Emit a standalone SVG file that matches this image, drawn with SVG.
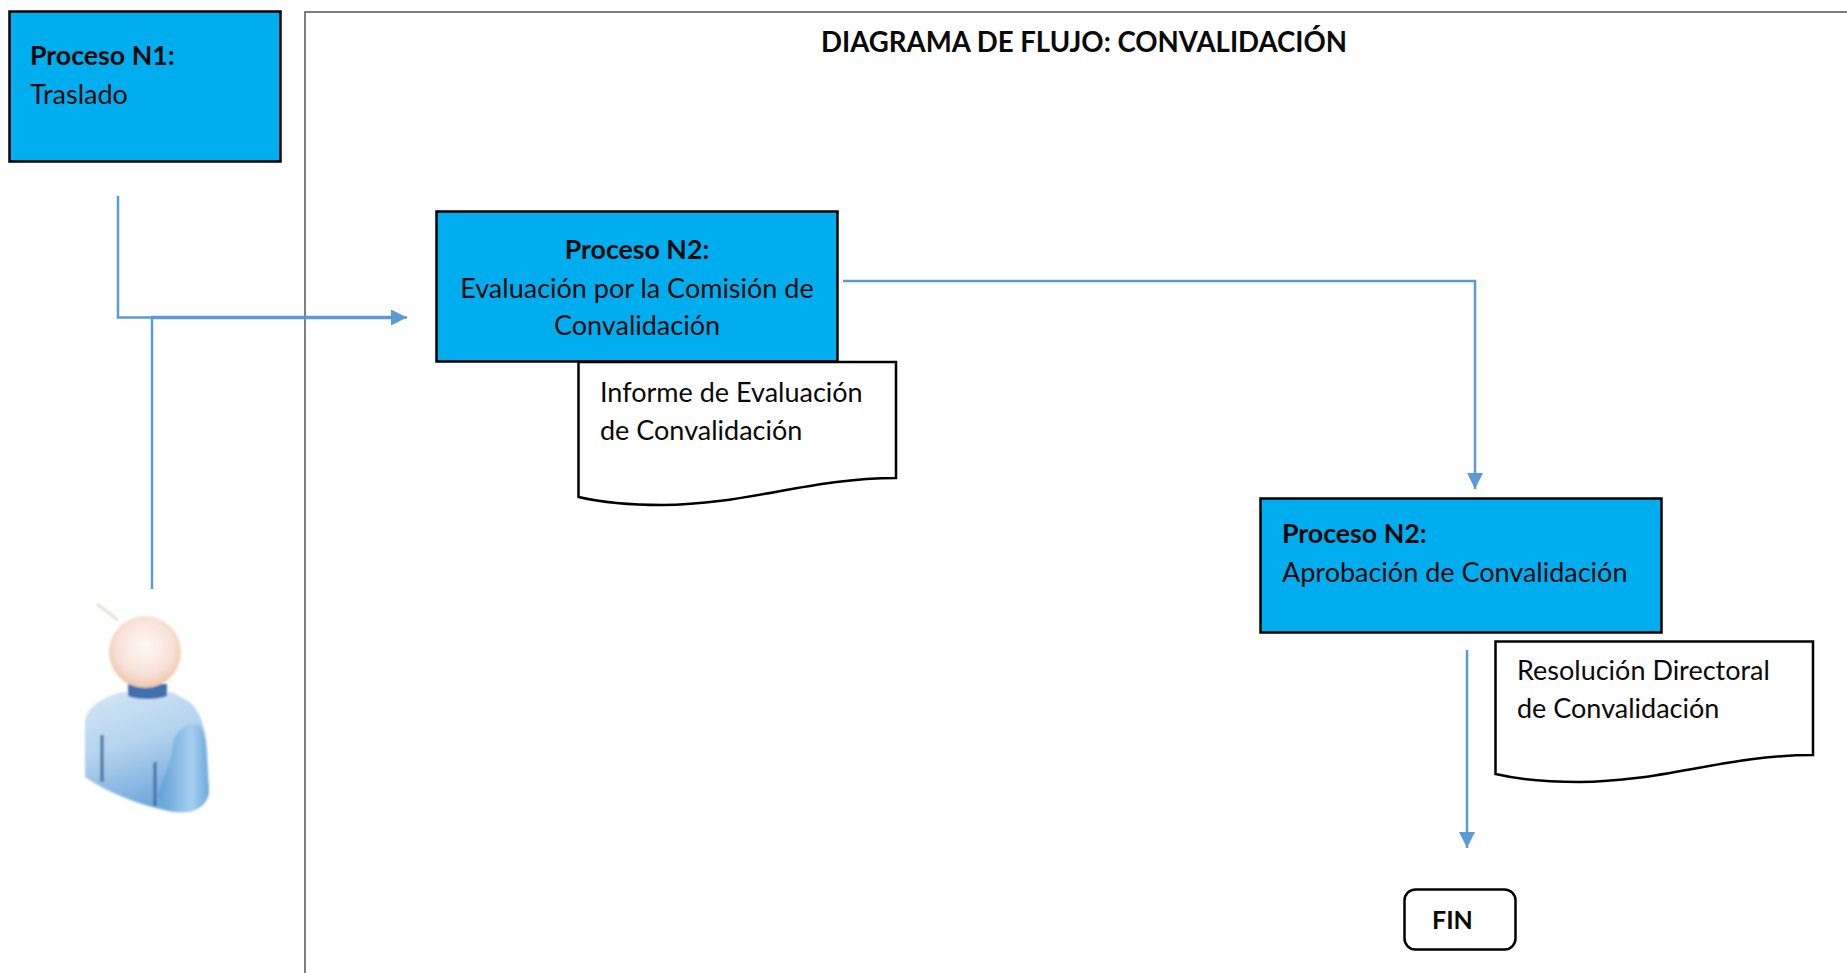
<svg xmlns="http://www.w3.org/2000/svg" width="1847" height="973" viewBox="0 0 1847 973">
<style>
text{font-family:Lato,"Open Sans","Liberation Sans",sans-serif;font-size:27px;fill:#0a0a0a}
.b{font-weight:700;font-size:26.7px}
.t{font-size:27.6px}
.box{fill:#00aeef;stroke:#000;stroke-width:2.5}
.doc{fill:#fff;stroke:#000;stroke-width:2.5}
.c{fill:none;stroke:#5b9bd5;stroke-width:2.5}
.h{stroke-width:3.5}
</style>
<defs>
<marker id="a" markerUnits="userSpaceOnUse" markerWidth="18" markerHeight="18" refX="16" refY="8" orient="auto"><path d="M0 0L16 8L0 16Z" fill="#5b9bd5"/></marker>
<radialGradient id="head" cx="0.5" cy="0.42" r="0.6"><stop offset="0" stop-color="#fff8f5"/><stop offset="0.65" stop-color="#f8e2d8"/><stop offset="1" stop-color="#ecc3a6"/></radialGradient>
<linearGradient id="body" x1="0" y1="0" x2="0.35" y2="1"><stop offset="0" stop-color="#d5e8f5"/><stop offset="0.5" stop-color="#b4d3ee"/><stop offset="1" stop-color="#6fa8dc"/></linearGradient>
<linearGradient id="sleeve" x1="0" y1="0" x2="1" y2="0"><stop offset="0" stop-color="#5f9fd6"/><stop offset="0.65" stop-color="#a5cfef"/><stop offset="1" stop-color="#6ea9dc"/></linearGradient>
<filter id="soft" x="-20%" y="-20%" width="140%" height="140%"><feGaussianBlur stdDeviation="1.3"/></filter>
</defs>
<rect width="1847" height="973" fill="#fff"/>
<path id="panel" d="M305 973V12H1847" fill="none" stroke="#555" stroke-width="1.5"/>
<text id="title" class="b t" x="1084" y="52" text-anchor="middle">DIAGRAMA DE FLUJO: CONVALIDACIÓN</text>
<g id="connectors">
<path class="c" d="M118 196V317.500H152"/>
<path class="c" d="M152 589V317.500H407" marker-end="url(#a)"/>
<path class="c h" d="M152 317.500H392"/>
<path class="c" d="M843 281H1475V489" marker-end="url(#a)"/>
<path class="c" d="M1467 650V848" marker-end="url(#a)"/>
</g>
<g id="proceso-n1">
<rect class="box" x="9.500" y="11.500" width="271" height="150"/>
<text class="b" x="30" y="65">Proceso N1:</text>
<text x="30" y="104">Traslado</text>
</g>
<g id="proceso-n2-evaluacion">
<rect class="box" x="436.500" y="211.500" width="401" height="150"/>
<text class="b" x="637" y="259" text-anchor="middle">Proceso N2:</text>
<text x="637" y="298" text-anchor="middle">Evaluación por la Comisión de</text>
<text x="637" y="335" text-anchor="middle">Convalidación</text>
</g>
<g id="informe">
<path class="doc" d="M578.500 362H896V478C810 478 745 505 662 505C630 505 600 502 578.500 497Z"/>
<text x="600" y="402">Informe de Evaluación</text>
<text x="600" y="440">de Convalidación</text>
</g>
<g id="proceso-n2-aprobacion">
<rect class="box" x="1260.500" y="498.500" width="401" height="134"/>
<text class="b" x="1282" y="543">Proceso N2:</text>
<text x="1282" y="582">Aprobación de Convalidación</text>
</g>
<g id="resolucion">
<path class="doc" d="M1495.500 641.500H1813V755C1727 755 1662 782 1579 782C1547 782 1517 779 1495.500 774Z"/>
<text x="1517" y="680">Resolución Directoral</text>
<text x="1517" y="718">de Convalidación</text>
</g>
<g id="fin">
<rect x="1404.500" y="889.500" width="111" height="60" rx="11" fill="#fff" stroke="#000" stroke-width="2.500"/>
<text class="b" x="1432" y="929" style="font-size:25px">FIN</text>
</g>
<g id="persona">
<path d="M97 604L118 620" stroke="#e2e2dc" stroke-width="3" fill="none" filter="url(#soft)"/>
<g filter="url(#soft)">
<path d="M122 692H172L190 702C200 712 206 728 207 750L209 792C207 808 192 814 175 812C150 808 112 796 85 777L85 722C86 708 102 697 122 692Z" fill="url(#body)"/>
<path d="M173 745C175 728 190 722 200 726C206 735 207 750 207 765L209 792C207 808 192 813 176 812C166 808 160 802 158 795C162 780 171 765 173 745Z" fill="url(#sleeve)"/>
<path d="M128 684H167V696C158 700 136 700 128 696Z" fill="#3f6fb0"/>
<circle cx="145" cy="652" r="36" fill="url(#head)"/>
<path d="M102 735V782M155 762V806" stroke="#3e6f9e" stroke-width="3" fill="none"/>
</g>
</g>
</svg>
